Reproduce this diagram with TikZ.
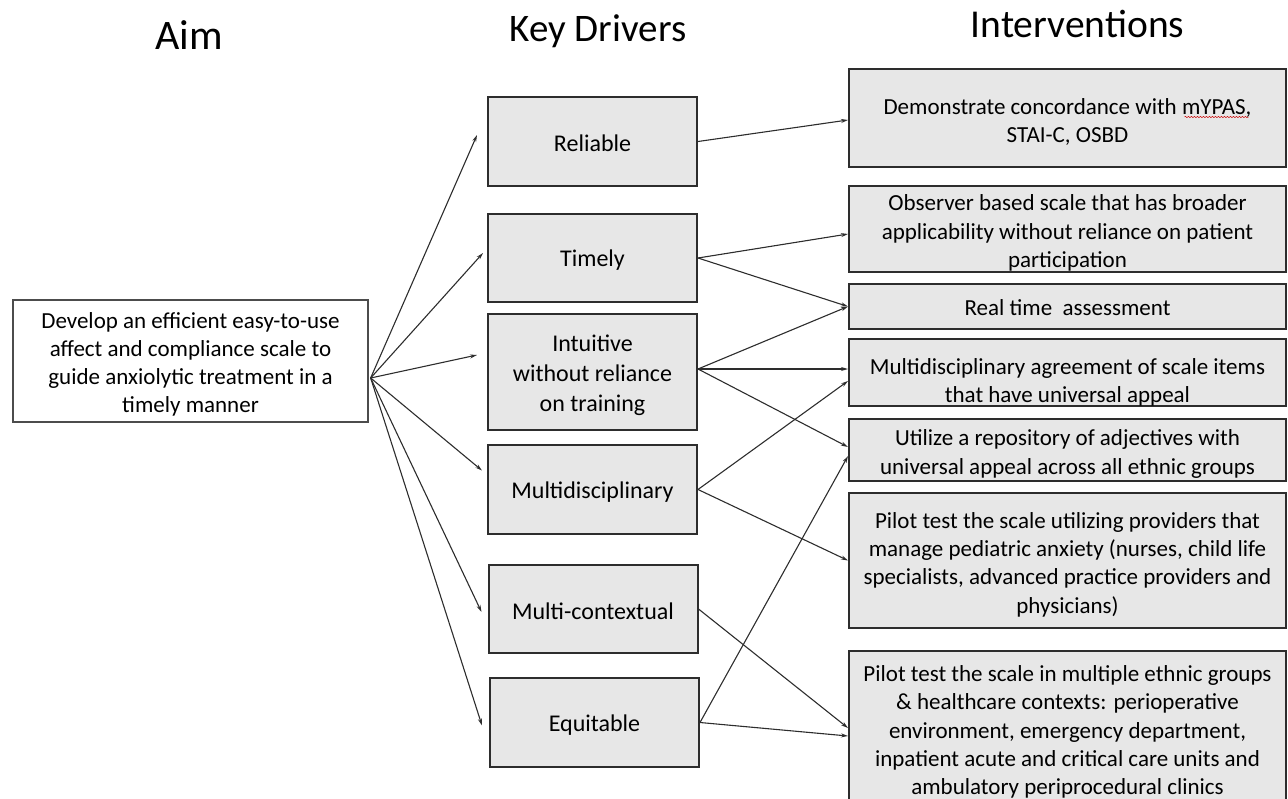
\documentclass[tikz,border=0pt]{standalone}
\usepackage{fontspec}
\setmainfont{Carlito}
\usetikzlibrary{arrows.meta, positioning, calc, decorations.pathmorphing}
\definecolor{boxgray}{RGB}{231, 231, 231}
\definecolor{edgegray}{RGB}{45, 45, 45}
\tikzset{
    >={Stealth[length=7pt, width=4pt]},
    heading/.style={anchor=base, font=\fontsize{39}{46}\selectfont},
    % taller first line pushes the text block down a little
    boxtext/.style={execute at begin node={\rule{0pt}{#1}}},
    aimbox/.style={draw=edgegray!85, line width=1.3pt, align=flush center, inner sep=0pt, boxtext=22pt,
        text width=350pt, minimum width=355pt, minimum height=122pt, font=\fontsize{23}{28}\selectfont},
    driverbox/.style={draw=edgegray, line width=2pt, fill=boxgray, align=flush center, inner sep=0pt, boxtext=21pt,
        text width=205pt, minimum width=209pt, font=\fontsize{24}{30}\selectfont},
    actionbox/.style={draw=edgegray, line width=2pt, fill=boxgray, align=flush center, inner sep=0pt, boxtext=24pt,
        text width=435pt, minimum width=437pt, font=\fontsize{23}{28.3}\selectfont},
    link/.style={->, draw=edgegray, line width=1.1pt, line cap=round}
}

\begin{document}
\begin{tikzpicture}[x=1pt, y=-1pt]
    \useasboundingbox (0,0) rectangle (1288,798);
    \clip (0,0) rectangle (1288,798);

    % column headings
    \node [heading, font=\fontsize{42}{50}\selectfont] (aimhead) at (189,49) {Aim};
    \node [heading] (drivershead) at (598,41) {Key Drivers};
    \node [heading, font=\fontsize{39.5}{46}\selectfont] (interhead) at (1077.5,37) {Interventions};

    % aim
    \node [aimbox] (aim) at (190.5,361) {
        Develop an efficient easy-to-use\\
        affect and compliance scale to\\
        guide anxiolytic treatment in a\\
        timely manner
    };

    % key drivers
    \node [driverbox, minimum height=89pt] (reliable) at (592.5,141.5) {Reliable};
    \node [driverbox, minimum height=88pt] (timely) at (592.5,258) {Timely};
    \node [driverbox, minimum height=116pt, boxtext=24pt] (intuitive) at (592.5,372) {Intuitive\\ without reliance\\ on training};
    \node [driverbox, minimum height=89pt] (multidisc) at (592.5,489.5) {Multidisciplinary};
    \node [driverbox, minimum height=88pt] (multicontext) at (593,609) {Multi-contextual};
    \node [driverbox, minimum height=89pt] (equitable) at (594.5,722.5) {Equitable};

    % interventions
    \node [actionbox, minimum height=98pt] (concord) at (1067.5,118) {
        Demonstrate concordance with mYPAS,\\
        STAI-C, OSBD
    };
    \node [actionbox, minimum height=86pt] (observer) at (1067.5,229) {
        Observer based scale that has broader\\
        applicability without reliance on patient\\
        participation
    };
    \node [actionbox, minimum height=45pt, boxtext=0pt, text depth=6pt] (realtime) at (1067.5,306.5) {Real time~ assessment};
    \node [actionbox, minimum height=65pt, boxtext=35pt] (agreement) at (1067.5,372.5) {
        Multidisciplinary agreement of scale items\\
        that have universal appeal
    };
    \node [actionbox, minimum height=62pt] (repository) at (1067.5,450) {
        Utilize a repository of adjectives with\\
        universal appeal across all ethnic groups
    };
    \node [actionbox, minimum height=135pt] (pilotprov) at (1067.5,560.5) {
        Pilot test the scale utilizing providers that\\
        manage pediatric anxiety (nurses, child life\\
        specialists, advanced practice providers and\\
        physicians)
    };
    \node [actionbox, minimum height=154pt] (pilotctx) at (1067.5,728) {
        Pilot test the scale in multiple ethnic groups\\
        \& healthcare contexts: perioperative\\
        environment, emergency department,\\
        inpatient acute and critical care units and\\
        ambulatory periprocedural clinics
    };

    % spell-check squiggle under mYPAS
    \draw [red!80!black, line width=0.5pt, decorate, decoration={snake, amplitude=0.6pt, segment length=3pt}]
        ([xshift=117pt, yshift=1pt]concord.center) -- ++(64,0);

    % aim to drivers
    \coordinate (aimout) at ([xshift=2pt, yshift=-17pt]aim.east);
    \draw [link] (aimout) -- ([xshift=-10pt, yshift=6.5pt]reliable.west);
    \draw [link] (aimout) -- ([xshift=-4pt, yshift=5pt]timely.west);
    \draw [link] (aimout) -- ([xshift=-10pt, yshift=17pt]intuitive.west);
    \draw [link] (aimout) -- ([xshift=-5pt, yshift=19pt]multidisc.west);
    \draw [link] (aimout) -- ([xshift=-6pt, yshift=-3pt]multicontext.west);
    \draw [link] (aimout) -- ([xshift=-7pt, yshift=-3pt]equitable.west);

    % drivers to interventions
    \coordinate (intuitiveout) at ([yshift=3pt]intuitive.east);
    \draw [link] (reliable.east) -- ([yshift=-2pt]concord.west);
    \draw [link] (timely.east) -- ([yshift=-5pt]observer.west);
    \draw [link] (timely.east) -- (realtime.west);
    \draw [link] (intuitiveout) -- (realtime.west);
    \draw [link] (intuitiveout) -- ([yshift=3.5pt]agreement.west);
    \draw [link] (intuitiveout) -- ([yshift=3pt]repository.west);
    \draw [link] (multidisc.east) -- ([yshift=-8.5pt]agreement.west);
    \draw [link] (multidisc.east) -- (pilotprov.west);
    \draw [link] (multicontext.east) -- (pilotctx.west);
    \draw [link] (equitable.east) -- ([yshift=-6pt]repository.west);
    \draw [link] (equitable.east) -- ([yshift=-8pt]pilotctx.west);
\end{tikzpicture}
\end{document}
